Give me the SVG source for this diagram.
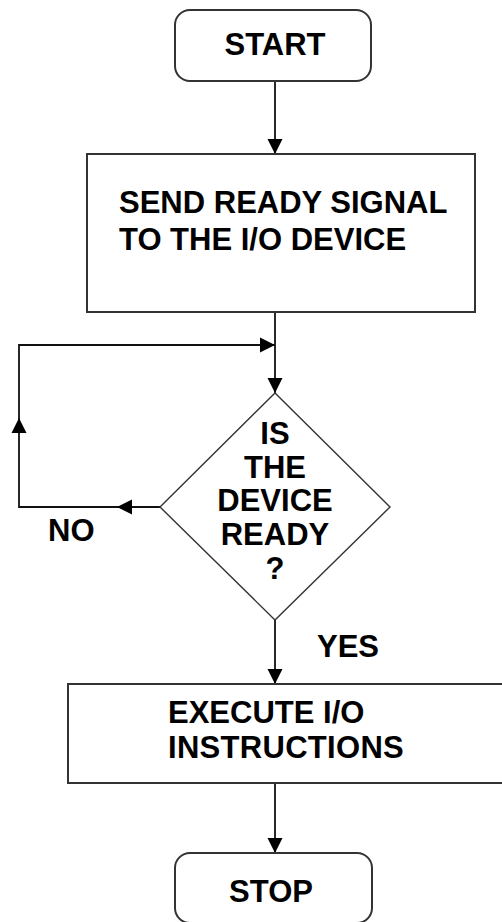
<svg xmlns="http://www.w3.org/2000/svg" width="502" height="922" viewBox="0 0 502 922">
<defs>
<style>
.box{fill:#fff;stroke:#333;stroke-width:2}
.dia{fill:#fff;stroke:#333;stroke-width:1.4}
.ln{fill:none;stroke:#111;stroke-width:1.8}
text{font-family:"Liberation Sans",Arial,sans-serif;font-weight:bold;font-size:31px;fill:#000}
.c{text-anchor:middle}
</style>
<marker id="ah" markerUnits="userSpaceOnUse" markerWidth="16" markerHeight="16" viewBox="0 0 16 16" refX="15" refY="8" orient="auto">
<path d="M0,0.5 L15,8 L0,15.5 Z" fill="#000"/>
</marker>
</defs>
<rect width="502" height="922" fill="#fff"/>
<g id="connectors">
<path class="ln" d="M275,81 V154" marker-end="url(#ah)"/>
<path class="ln" d="M275,312 V393" marker-end="url(#ah)"/>
<path class="ln" d="M161,507 H117"  marker-end="url(#ah)"/>
<path class="ln" d="M117,507 H19 V418" marker-end="url(#ah)"/>
<path class="ln" d="M19,420 V345 H275" marker-end="url(#ah)"/>
<path class="ln" d="M275,620 V684" marker-end="url(#ah)"/>
<path class="ln" d="M275,783 V853" marker-end="url(#ah)"/>
</g>
<g id="start">
<rect class="box" x="175" y="10" width="196" height="71" rx="15"/>
<text class="c" x="275" y="55">START</text>
</g>
<g id="send">
<rect class="box" x="87" y="154" width="388" height="158"/>
<text x="119" y="213">SEND READY SIGNAL</text>
<text x="119" y="250">TO THE I/O DEVICE</text>
</g>
<g id="decision">
<path class="dia" d="M275,393 L390,507 L275,620 L160,507 Z"/>
<text class="c" x="275" y="444">IS</text>
<text class="c" x="275" y="478">THE</text>
<text class="c" x="275" y="511">DEVICE</text>
<text class="c" x="275" y="545">READY</text>
<text class="c" x="275" y="579">?</text>
</g>
<g id="labels">
<text x="48" y="541">NO</text>
<text x="317" y="657">YES</text>
</g>
<g id="execute">
<rect class="box" x="68" y="684" width="450" height="99"/>
<text x="168" y="723">EXECUTE I/O</text>
<text x="168" y="758" letter-spacing="0.3">INSTRUCTIONS</text>
</g>
<g id="stop">
<rect class="box" x="175" y="853" width="197" height="70" rx="15"/>
<text class="c" x="271" y="902">STOP</text>
</g>
</svg>
